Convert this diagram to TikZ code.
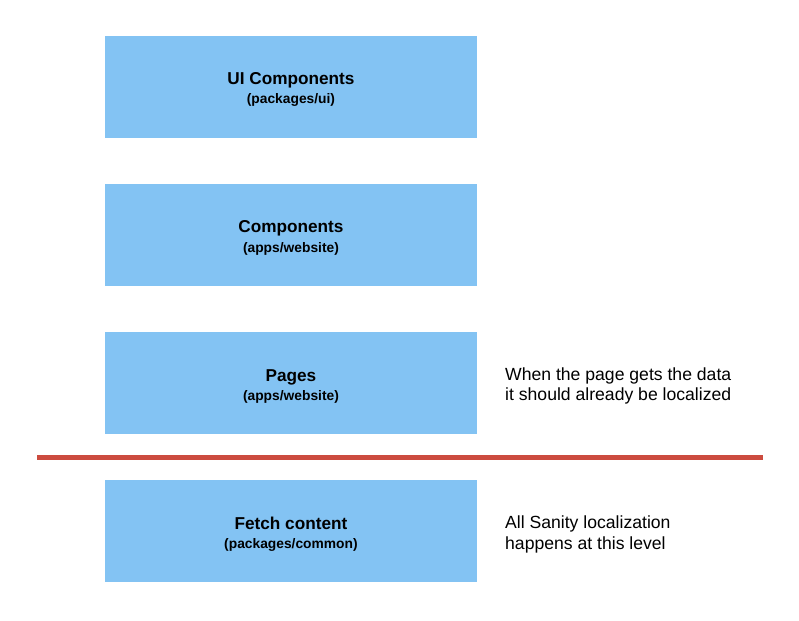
\documentclass[tikz,border=0pt]{standalone}
\usepackage{fontspec}
\setmainfont{Liberation Sans}
\definecolor{layerblue}{RGB}{131,195,243}
\definecolor{divider}{RGB}{204,75,63}
\tikzset{
  layer/.style={fill=layerblue, draw=none, minimum width=371.5pt, minimum height=102pt, inner sep=0pt, anchor=north west},
  layertitle/.style={anchor=base, inner sep=0pt, font=\fontsize{17.2}{20}\selectfont\bfseries},
  layersub/.style={anchor=base, inner sep=0pt, font=\fontsize{13.8}{16}\selectfont\bfseries},
  note/.style={anchor=base west, inner sep=0pt, align=left, font=\fontsize{17.6}{20.6}\selectfont},
}
\begin{document}
\begin{tikzpicture}[x=1pt, y=-1pt]
  \useasboundingbox (0,0) rectangle (799,620);

  % stacked layers
  \node[layer] (ui) at (105,36) {};
  \node[layer] (comp) at (105,184) {};
  \node[layer] (pages) at (105,332) {};
  \node[layer] (fetch) at (105,480) {};

  \node[layertitle] (uiT) at ([yshift=-49pt]ui.north) {UI Components};
  \node[layersub] (uiS) at ([yshift=-68pt]ui.north) {(packages/ui)};
  \node[layertitle] (compT) at ([yshift=-49pt]comp.north) {Components};
  \node[layersub] (compS) at ([yshift=-68pt]comp.north) {(apps/website)};
  \node[layertitle] (pagesT) at ([yshift=-49pt]pages.north) {Pages};
  \node[layersub] (pagesS) at ([yshift=-68pt]pages.north) {(apps/website)};
  \node[layertitle] (fetchT) at ([yshift=-49pt]fetch.north) {Fetch content};
  \node[layersub] (fetchS) at ([yshift=-68pt]fetch.north) {(packages/common)};

  % boundary between data fetching and rendering
  \coordinate (divL) at (37,457.5);
  \coordinate (divR) at (763,457.5);
  \draw[divider, line width=5pt] (divL) -- (divR);

  % side notes (anchored at the baseline of the last line)
  \node[note] (pagesNote) at (505,400.7) {When the page gets the data\\it should already be localized};
  \node[note] (fetchNote) at (505,549.3) {All Sanity localization\\happens at this level};
\end{tikzpicture}
\end{document}
